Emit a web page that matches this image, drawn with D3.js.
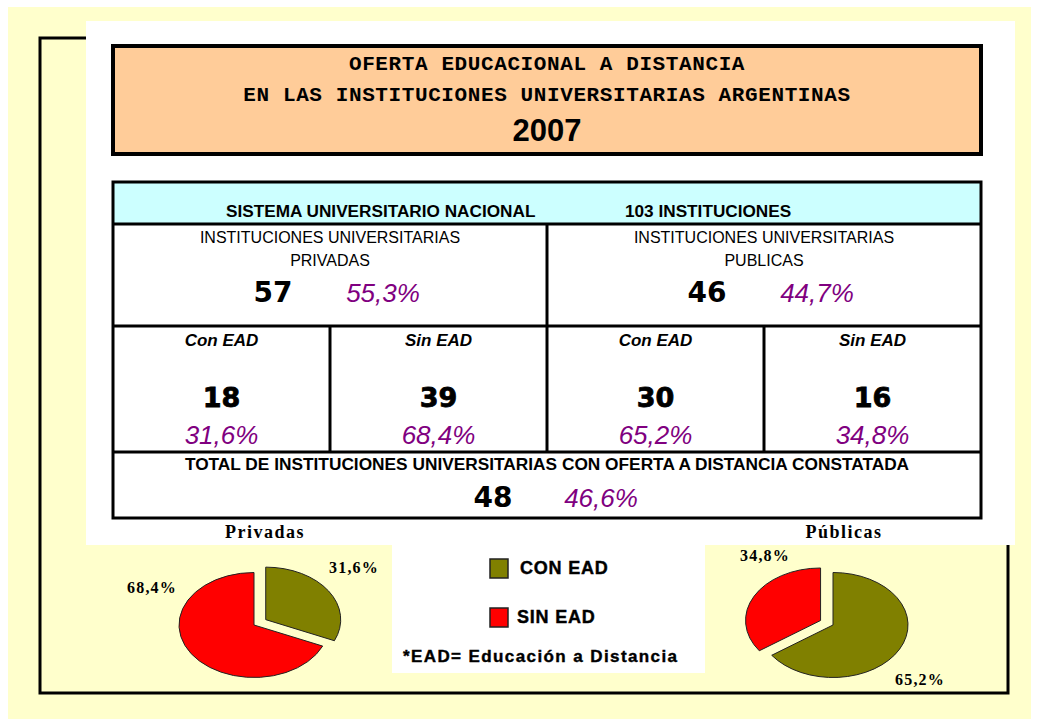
<!DOCTYPE html>
<html>
<head>
<meta charset="utf-8">
<script src="https://cdn.jsdelivr.net/npm/d3@7"></script>
<style>
  body { margin: 0; background: #fff; }
  svg { display: block; }
</style>
</head>
<body>
<svg id="chart"></svg>
<script>
// datos
var titulo = ['OFERTA EDUCACIONAL A DISTANCIA', 'EN LAS INSTITUCIONES UNIVERSITARIAS ARGENTINAS'];
var anio = '2007';
var categorias = ['CON EAD', 'SIN EAD'];
var subtitulos = ['Con EAD', 'Sin EAD'];
var sectores = ['Privadas', 'Públicas'];
var sectoresTabla = ['PRIVADAS', 'PUBLICAS'];
var totalesSector = [57, 46];
var pctSector = ['55,3%', '44,7%'];
var privadasValores = [18, 39];
var privadasPct = ['31,6%', '68,4%'];
var publicasValores = [30, 16];
var publicasPct = ['65,2%', '34,8%'];
var totalInstituciones = 103;
var totalConEad = 48;
var pctConEad = '46,6%';
var colores = ['#808000', '#ff0000'];

var width = 1039;
var height = 719;

var sans = '"Liberation Sans", Arial, sans-serif';
var serif = '"Liberation Serif", "Times New Roman", serif';
var mono = '"Liberation Mono", "Courier New", monospace';
var heavy = '"DejaVu Sans", "Liberation Sans", sans-serif';
var purple = '#800080';

var svg = d3.select('#chart')
  .attr('width', width)
  .attr('height', height);

// fondo amarillo y marco
svg.append('rect').attr('x', 8).attr('y', 7).attr('width', 1023).attr('height', 712).attr('fill', '#ffffcc');
svg.append('rect').attr('x', 40).attr('y', 38).attr('width', 968).attr('height', 655)
  .attr('fill', 'none').attr('stroke', '#000').attr('stroke-width', 3);
svg.append('rect').attr('x', 86).attr('y', 21).attr('width', 929).attr('height', 524).attr('fill', '#fff');
svg.append('rect').attr('x', 392).attr('y', 545).attr('width', 313).attr('height', 128).attr('fill', '#fff');

// titulo
var tx = 547;
svg.append('rect').attr('x', 113).attr('y', 46).attr('width', 868).attr('height', 108)
  .attr('fill', '#ffcc99').attr('stroke', '#000').attr('stroke-width', 4);
svg.selectAll('text.titulo')
  .data(titulo)
  .enter()
  .append('text')
  .attr('class', 'titulo')
  .attr('x', tx)
  .attr('y', function(d, i){ return 70 + i * 31; })
  .attr('text-anchor', 'middle')
  .style('font-family', mono).style('font-weight', 'bold')
  .style('font-size', '21px').style('letter-spacing', '0.6px')
  .text(function(d){ return d; });
svg.append('text').attr('x', tx).attr('y', 141).attr('text-anchor', 'middle')
  .style('font-family', sans).style('font-weight', 'bold').style('font-size', '31px')
  .text(anio);

// tabla
var tabla = { x0: 113, x1: 981, y0: 182, yHead: 224, yRow2: 326, yRow3: 452, y1: 518 };
var colX = d3.scaleBand().domain(d3.range(4)).range([tabla.x0, tabla.x1]);
var secX = d3.scaleBand().domain(d3.range(2)).range([tabla.x0, tabla.x1]);
var midX = (tabla.x0 + tabla.x1) / 2;

svg.append('rect').attr('x', tabla.x0).attr('y', tabla.y0)
  .attr('width', tabla.x1 - tabla.x0).attr('height', tabla.yHead - tabla.y0).attr('fill', '#ccffff');
svg.append('rect').attr('x', tabla.x0).attr('y', tabla.yHead)
  .attr('width', tabla.x1 - tabla.x0).attr('height', tabla.y1 - tabla.yHead).attr('fill', '#fff');

var lineas = [
  [tabla.x0, tabla.yHead, tabla.x1, tabla.yHead],
  [tabla.x0, tabla.yRow2, tabla.x1, tabla.yRow2],
  [tabla.x0, tabla.yRow3, tabla.x1, tabla.yRow3],
  [midX, tabla.yHead, midX, tabla.yRow3],
  [colX(1), tabla.yRow2, colX(1), tabla.yRow3],
  [colX(3), tabla.yRow2, colX(3), tabla.yRow3]
];
svg.selectAll('line.grid')
  .data(lineas)
  .enter()
  .append('line')
  .attr('class', 'grid')
  .attr('x1', function(d){ return d[0]; })
  .attr('y1', function(d){ return d[1]; })
  .attr('x2', function(d){ return d[2]; })
  .attr('y2', function(d){ return d[3]; })
  .attr('stroke', '#000').attr('stroke-width', 3);
svg.append('rect').attr('x', tabla.x0).attr('y', tabla.y0)
  .attr('width', tabla.x1 - tabla.x0).attr('height', tabla.y1 - tabla.y0)
  .attr('fill', 'none').attr('stroke', '#000').attr('stroke-width', 3);

// cabecera
svg.append('text').attr('x', 226).attr('y', 217)
  .style('font-family', sans).style('font-weight', 'bold').style('font-size', '17.2px')
  .text('SISTEMA UNIVERSITARIO NACIONAL');
svg.append('text').attr('x', 625).attr('y', 217)
  .style('font-family', sans).style('font-weight', 'bold').style('font-size', '17.2px')
  .text(totalInstituciones + ' INSTITUCIONES');

// fila sectores
var sec = svg.selectAll('g.sector')
  .data(sectoresTabla)
  .enter()
  .append('g')
  .attr('class', 'sector')
  .attr('transform', function(d, i){ return 'translate(' + (secX(i) + secX.bandwidth() / 2) + ',0)'; });
sec.append('text').attr('y', 243).attr('text-anchor', 'middle')
  .style('font-family', sans).style('font-size', '16px')
  .text('INSTITUCIONES UNIVERSITARIAS');
sec.append('text').attr('y', 266).attr('text-anchor', 'middle')
  .style('font-family', sans).style('font-size', '16px')
  .text(function(d){ return d; });
sec.append('text').attr('x', -57).attr('y', 302).attr('text-anchor', 'middle')
  .style('font-family', heavy).style('font-weight', 'bold').style('font-size', '28px')
  .text(function(d, i){ return totalesSector[i]; });
sec.append('text').attr('x', 53).attr('y', 302).attr('text-anchor', 'middle')
  .attr('fill', purple)
  .style('font-family', sans).style('font-style', 'italic').style('font-size', '26px')
  .text(function(d, i){ return pctSector[i]; });

// fila con / sin EAD
var celdas = [];
[privadasValores, publicasValores].forEach(function(vals, s){
  var pcts = s === 0 ? privadasPct : publicasPct;
  vals.forEach(function(v, j){
    celdas.push({ sub: subtitulos[j], valor: v, pct: pcts[j] });
  });
});
var cel = svg.selectAll('g.celda')
  .data(celdas)
  .enter()
  .append('g')
  .attr('class', 'celda')
  .attr('transform', function(d, i){ return 'translate(' + (colX(i) + colX.bandwidth() / 2) + ',0)'; });
cel.append('text').attr('y', 346).attr('text-anchor', 'middle')
  .style('font-family', sans).style('font-weight', 'bold').style('font-style', 'italic').style('font-size', '17px')
  .text(function(d){ return d.sub; });
cel.append('text').attr('y', 407).attr('text-anchor', 'middle')
  .style('font-family', heavy).style('font-weight', 'bold').style('font-size', '27px')
  .style('stroke', '#000').style('stroke-width', 0.8)
  .text(function(d){ return d.valor; });
cel.append('text').attr('y', 444).attr('text-anchor', 'middle')
  .attr('fill', purple)
  .style('font-family', sans).style('font-style', 'italic').style('font-size', '26px')
  .text(function(d){ return d.pct; });

// fila total
svg.append('text').attr('x', midX).attr('y', 470).attr('text-anchor', 'middle')
  .style('font-family', sans).style('font-weight', 'bold').style('font-size', '17.3px')
  .text('TOTAL DE INSTITUCIONES UNIVERSITARIAS CON OFERTA A DISTANCIA CONSTATADA');
svg.append('text').attr('x', midX - 54).attr('y', 507).attr('text-anchor', 'middle')
  .style('font-family', heavy).style('font-weight', 'bold').style('font-size', '28px')
  .text(totalConEad);
svg.append('text').attr('x', midX + 54).attr('y', 507).attr('text-anchor', 'middle')
  .attr('fill', purple)
  .style('font-family', sans).style('font-style', 'italic').style('font-size', '26px')
  .text(pctConEad);

// tortas
var radio = 75;
var aplanado = 0.7;
var tortas = [
  { nombre: sectores[0], valores: privadasValores, pct: privadasPct, cx: 254, cy: 625, destacar: 0,
    etiquetas: [[100, -52], [-102, -32]] },
  { nombre: sectores[1], valores: publicasValores, pct: publicasPct, cx: 833, cy: 625, destacar: 1,
    etiquetas: [[87, 60], [-68, -64]] }
];

var pie = d3.pie().sort(null).value(function(d){ return d; });
var arc = d3.arc().innerRadius(0).outerRadius(radio);

tortas.forEach(function(t){
  svg.append('text').attr('x', t.cx + 11).attr('y', 538).attr('text-anchor', 'middle')
    .style('font-family', serif).style('font-weight', 'bold').style('font-size', '18px')
    .style('letter-spacing', '1.5px')
    .text(t.nombre);

  var g = svg.append('g')
    .attr('transform', 'translate(' + t.cx + ',' + t.cy + ') scale(1,' + aplanado + ')');
  g.selectAll('path')
    .data(pie(t.valores))
    .enter()
    .append('path')
    .attr('d', arc)
    .attr('transform', function(d, i){
      if (i !== t.destacar) return null;
      var a = (d.startAngle + d.endAngle) / 2;
      return 'translate(' + (Math.sin(a) * 14) + ',' + (-Math.cos(a) * 14) + ')';
    })
    .attr('fill', function(d, i){ return colores[i]; })
    .attr('stroke', '#222')
    .attr('stroke-width', 1)
    .attr('vector-effect', 'non-scaling-stroke');

  svg.selectAll(null)
    .data(t.pct)
    .enter()
    .append('text')
    .attr('x', function(d, i){ return t.cx + t.etiquetas[i][0]; })
    .attr('y', function(d, i){ return t.cy + t.etiquetas[i][1]; })
    .attr('text-anchor', 'middle')
    .style('font-family', serif).style('font-weight', 'bold').style('font-size', '16px')
    .style('letter-spacing', '1.2px')
    .text(function(d){ return d; });
});

// leyenda
var leyenda = svg.selectAll('g.leyenda')
  .data(categorias)
  .enter()
  .append('g')
  .attr('class', 'leyenda')
  .attr('transform', function(d, i){ return 'translate(490,' + (559 + i * 49) + ')'; });
leyenda.append('rect').attr('width', 18).attr('height', 19)
  .attr('fill', function(d, i){ return colores[i]; })
  .attr('stroke', '#222').attr('stroke-width', 1.5);
leyenda.append('text').attr('x', function(d, i){ return i === 0 ? 30 : 27; }).attr('y', 15)
  .style('font-family', sans).style('font-weight', 'bold').style('font-size', '18px')
  .style('letter-spacing', '0.8px')
  .style('stroke', '#000').style('stroke-width', 0.4)
  .text(function(d){ return d; });
svg.append('text').attr('x', 403).attr('y', 662)
  .style('font-family', sans).style('font-weight', 'bold').style('font-size', '17px')
  .style('letter-spacing', '1.4px')
  .style('stroke', '#000').style('stroke-width', 0.4)
  .text('*EAD= Educación a Distancia');
</script>
</body>
</html>
